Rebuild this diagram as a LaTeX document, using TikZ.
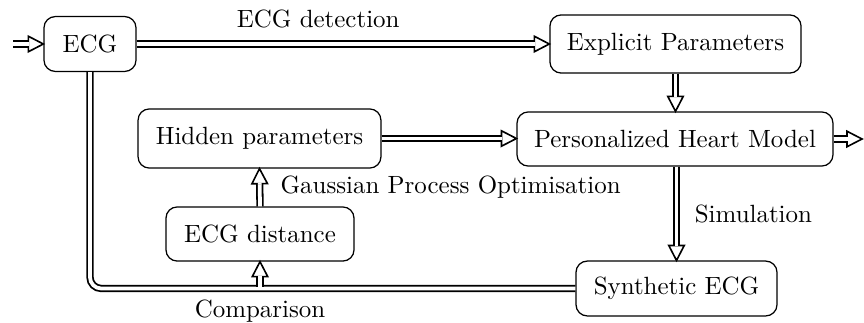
\documentclass[tikz,border=0pt]{standalone}
\usetikzlibrary{decorations.markings}
\begin{document}
\begin{tikzpicture}[x=0.401pt,y=-0.401pt,
  box/.style={draw,rounded corners=4.5pt,inner sep=0pt,line width=0.5pt},
  % double stem of a connector, stopping where the hollow head begins
  dline/.style={double,line width=0.72pt,double distance=1.5pt,shorten >=5.8pt},
  link/.style={double,line width=0.72pt,double distance=1.5pt},
  % hollow triangular head, open where the stem enters
  tipmark/.style={postaction={decorate,decoration={markings,
    mark=at position 1 with {
      \draw[line width=0.65pt,fill=white,line join=miter] (0pt,0pt) -- (-6pt,3.1pt) -- (-6pt,-3.1pt) -- cycle;
      \fill[white] (-6.4pt,-0.75pt) rectangle (-5.6pt,0.75pt);}}}},
  lbl/.style={inner sep=0pt}]
\useasboundingbox (0,0) rectangle (864,322);

% blocks
\node[box,minimum width=36.9pt,minimum height=22pt] (ecg) at (90,44) {ECG};
\node[box,minimum width=100.7pt,minimum height=23.3pt] (expl) at (675.5,44) {Explicit Parameters};
\node[box,minimum width=126.7pt,minimum height=21.7pt] (heart) at (675,139) {Personalized Heart Model};
\node[box,minimum width=97.4pt,minimum height=23.7pt] (hidden) at (259.5,138.5) {Hidden parameters};
\node[box,minimum width=75.4pt,minimum height=21.7pt] (dist) at (260,234) {ECG distance};
\node[box,minimum width=80.6pt,minimum height=22pt] (synth) at (676.5,288.5) {Synthetic ECG};

\coordinate (in) at (13,44);
\coordinate (out) at (862,139);

% connectors
\draw[dline] (in) -- (ecg.west);
\path[tipmark] (in) -- (ecg.west);

\draw[dline] (ecg.east) -- node[lbl,above=6pt,pos=0.44] {ECG detection} (expl.west);
\path[tipmark] (ecg.east) -- (expl.west);

\draw[dline] (expl.south) -- (expl.south |- heart.north);
\path[tipmark] (expl.south) -- (expl.south |- heart.north);

\draw[dline] (hidden.east) -- (hidden.east -| heart.west);
\path[tipmark] (hidden.east) -- (hidden.east -| heart.west);

\draw[dline] (heart.east) -- (out);
\path[tipmark] (heart.east) -- (out);

\draw[dline] (heart.south -| synth.north) -- node[lbl,right=7pt] {Simulation} (synth.north);
\path[tipmark] (heart.south -| synth.north) -- (synth.north);

\draw[dline] (dist.north) -- node[lbl,right=8pt] {Gaussian Process Optimisation} (hidden.south);
\path[tipmark] (dist.north) -- (hidden.south);

% measured ECG fed back for comparison with the synthetic one
\draw[link,rounded corners=4.5pt] (ecg.south) |- (synth.west);
\coordinate (join) at ([yshift=0.75pt]dist.south |- synth.west);
\draw[dline] (join) -- (dist.south);
\path[tipmark] (join) -- (dist.south);
\node[lbl,below=4.5pt] (cmp) at (dist.south |- synth.west) {Comparison};
\end{tikzpicture}
\end{document}
